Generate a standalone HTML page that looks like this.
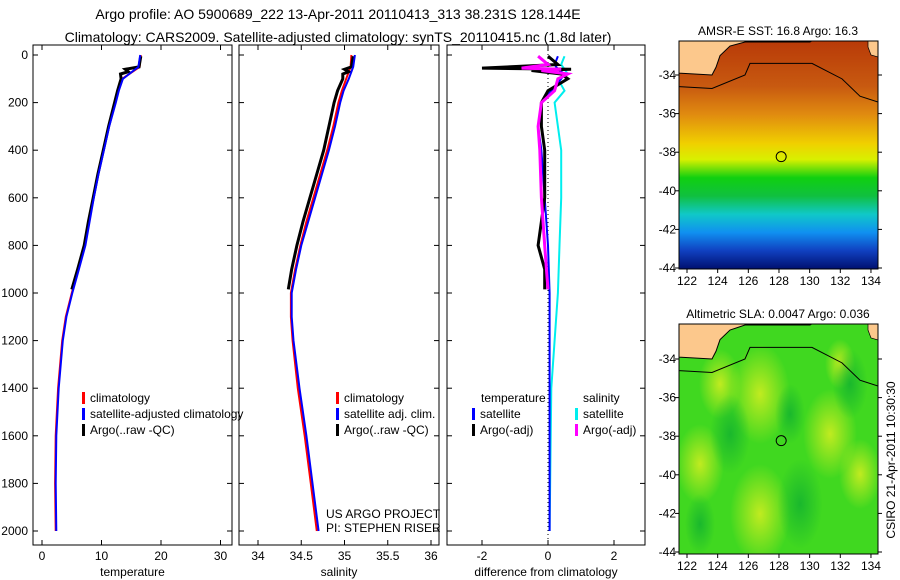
<!DOCTYPE html>
<html><head><meta charset="utf-8">
<style>
body{margin:0;background:#fff;}
svg{display:block;font-family:"Liberation Sans",sans-serif;}
</style></head>
<body>
<svg id="fig" width="900" height="580" viewBox="0 0 900 580">
<defs>
<linearGradient id="sstg" x1="0" y1="0" x2="0" y2="1">
<stop offset="0" stop-color="#b83a08"/>
<stop offset="0.2" stop-color="#c85a10"/>
<stop offset="0.32" stop-color="#e08a10"/>
<stop offset="0.45" stop-color="#f0d000"/>
<stop offset="0.52" stop-color="#d8f000"/>
<stop offset="0.6" stop-color="#10d010"/>
<stop offset="0.68" stop-color="#10c040"/>
<stop offset="0.76" stop-color="#10c8c8"/>
<stop offset="0.84" stop-color="#1090f0"/>
<stop offset="0.92" stop-color="#1040c0"/>
<stop offset="1" stop-color="#001070"/>
</linearGradient>
<radialGradient id="ylw" cx="0.5" cy="0.5" r="0.5"><stop offset="0" stop-color="#e0f020" stop-opacity="0.8"/><stop offset="1" stop-color="#e0f020" stop-opacity="0"/></radialGradient>
<radialGradient id="dg" cx="0.5" cy="0.5" r="0.5"><stop offset="0" stop-color="#10b030" stop-opacity="0.8"/><stop offset="1" stop-color="#10b030" stop-opacity="0"/></radialGradient>
<clipPath id="c1"><rect x="679" y="41" width="199" height="228"/></clipPath>
<clipPath id="c2"><rect x="679" y="324" width="199" height="230"/></clipPath>
</defs>
<text x="338" y="19" font-size="14" text-anchor="middle">Argo profile: AO 5900689_222 13-Apr-2011 20110413_313 38.231S 128.144E</text>
<text x="338" y="42" font-size="14" text-anchor="middle">Climatology: CARS2009. Satellite-adjusted climatology: synTS_20110415.nc (1.8d later)</text>
<g id="plots"></g>
</svg>
<script>
// ---------- data ----------
const depthTicks = [0,200,400,600,800,1000,1200,1400,1600,1800,2000];
const tempTicks = [0,10,20,30];
const salTicks = [34,34.5,35,35.5,36];
const salTickLabels = ["34","34.5","35","35.5","36"];
const diffTicks = [-2,0,2];
const climDepth = [0,50,100,150,200,300,400,500,600,700,800,900,1000,1100,1200,1400,1600,1800,2000];
const climTemp = [16.6,16.4,13.5,12.8,12.3,11.2,10.3,9.4,8.6,7.9,7.2,6.1,5.0,4.0,3.4,2.7,2.3,2.2,2.3];
const satTemp  = [16.5,16.2,13.6,12.9,12.4,11.3,10.4,9.5,8.7,8.0,7.3,6.2,5.1,4.1,3.5,2.8,2.4,2.3,2.4];
const argoDepth = [5,50,60,70,80,100,150,200,300,400,500,600,700,800,900,985];
const argoTemp = [16.6,16.3,14.0,14.5,13.2,13.3,12.7,12.2,11.2,10.3,9.4,8.6,7.8,7.1,6.0,5.0];
const climSal = [35.08,35.07,35.02,34.97,34.93,34.87,34.80,34.72,34.64,34.56,34.49,34.43,34.38,34.38,34.40,34.46,34.54,34.61,34.68];
const satSal  = [35.12,35.10,35.05,34.99,34.95,34.89,34.82,34.74,34.66,34.58,34.50,34.44,34.39,34.39,34.41,34.48,34.56,34.63,34.70];
const argoSal = [35.10,35.08,35.0,35.05,34.98,34.98,34.92,34.88,34.82,34.76,34.68,34.60,34.52,34.45,34.39,34.35];
const diffDepth = [5,40,60,80,100,150,200,300,400,600,800,1000,1400,2000];
const diffTempSat = [0.3,0.2,0.3,0.5,0.4,0.1,-0.2,-0.3,-0.2,-0.1,0.0,0.05,0.05,0.05];
const diffSalSat = [0.5,0.4,0.5,0.6,0.3,0.5,0.2,0.3,0.4,0.4,0.35,0.3,0.1,0.05];
const diffArgoDepth = [5,40,55,60,65,80,100,150,200,300,400,600,800,900,985];
const diffTempArgo = [0,0.3,-2.0,0.7,-0.5,0.4,0.6,0.0,-0.2,-0.2,-0.1,-0.1,-0.3,-0.1,-0.1];
const diffSalArgo = [-0.3,0.0,-0.8,0.4,-0.2,0.6,0.3,0.2,-0.2,-0.3,-0.25,-0.2,-0.1,-0.05,0.0];
const mapLonTicks = [122,124,126,128,130,132,134];
const mapLatTicks = [-34,-36,-38,-40,-42,-44];
const floatLon = 128.144, floatLat = -38.231;

// ---------- helpers ----------
const NS="http://www.w3.org/2000/svg";
const G=document.getElementById('plots');
function mk(tag,at,parent){const e=document.createElementNS(NS,tag);for(const k in at)e.setAttribute(k,at[k]);(parent||G).appendChild(e);return e;}
const yD = d => 55 + d*0.238;
function panel(x0,x1,xf,ticks,labels,xlabel,name){
  const r=mk('rect',{x:x0,y:45,width:x1-x0,height:500,fill:'none',stroke:'#000','stroke-width':1});
  
  
  ticks.forEach((t,i)=>{const x=xf(t);
    mk('line',{x1:x,x2:x,y1:545,y2:540,stroke:'#000'});mk('line',{x1:x,x2:x,y1:45,y2:50,stroke:'#000'});
    const tx=mk('text',{x:x,y:560,'font-size':12,'text-anchor':'middle'});tx.textContent=labels[i];
    
    });
  depthTicks.forEach(d=>{mk('line',{x1:x0,x2:x0+5,y1:yD(d),y2:yD(d),stroke:'#000'});mk('line',{x1:x1,x2:x1-5,y1:yD(d),y2:yD(d),stroke:'#000'});});
  const xl=mk('text',{x:(x0+x1)/2,y:576,'font-size':12,'text-anchor':'middle'});xl.textContent=xlabel;
  
  
}
function line(xs,ds,xf,color,w,name){
  const pts=xs.map((v,i)=>xf(v).toFixed(1)+','+yD(ds[i]).toFixed(1)).join(' ');
  const p=mk('polyline',{points:pts,fill:'none',stroke:color,'stroke-width':w});
  
  
}
function legend(x,y,items,name){
  items.forEach((it,i)=>{mk('rect',{x:x,y:y+i*16-10,width:3,height:12,fill:it[0]});
    const t=mk('text',{x:x+8,y:y+i*16,'font-size':12});t.textContent=it[1];
    
    });
}
depthTicks.forEach(d=>{const t=mk('text',{x:28,y:yD(d)+4,'font-size':12,'text-anchor':'end'});t.textContent=d;
  
  });

// panel 1 temperature
const xT=v=>42+v*5.95;
panel(33,232,xT,tempTicks,tempTicks.map(String),'temperature','temperature-panel');
line(climTemp,climDepth,xT,'#f00',2,'temp-climatology-line');
line(argoTemp,argoDepth,xT,'#000',3,'temp-argo-line');
line(satTemp,climDepth,xT,'#00f',2,'temp-satellite-line');
legend(82,402,[['#f00','climatology'],['#00f','satellite-adjusted climatology'],['#000','Argo(..raw -QC)']],'temp-legend');

// panel 2 salinity
const xS=v=>258+(v-34)*86.5;
panel(239,439,xS,salTicks,salTickLabels,'salinity','salinity-panel');
line(climSal,climDepth,xS,'#f00',2,'sal-climatology-line');
line(argoSal,argoDepth,xS,'#000',3,'sal-argo-line');
line(satSal,climDepth,xS,'#00f',2,'sal-satellite-line');
legend(336,402,[['#f00','climatology'],['#00f','satellite adj. clim.'],['#000','Argo(..raw -QC)']],'sal-legend');
const c1=mk('text',{x:326,y:518,'font-size':12});c1.textContent='US ARGO PROJECT';


const c2=mk('text',{x:326,y:532,'font-size':12});c2.textContent='PI: STEPHEN RISER';



// panel 3 differences
const xD=v=>548+v*33;
panel(447,645,xD,diffTicks,diffTicks.map(String),'difference from climatology','difference-panel');
mk('line',{x1:548,x2:548,y1:50,y2:540,stroke:'#000','stroke-dasharray':'1,3'});
line(diffSalSat,diffDepth,xD,'#0ee',2,'diff-sal-satellite-line');
line(diffTempSat,diffDepth,xD,'#00f',2,'diff-temp-satellite-line');
line(diffTempArgo,diffArgoDepth,xD,'#000',3,'diff-temp-argo-line');
line(diffSalArgo,diffArgoDepth,xD,'#f0f',3,'diff-sal-argo-line');
const h1=mk('text',{x:481,y:402,'font-size':12});h1.textContent='temperature';


const h2=mk('text',{x:583,y:402,'font-size':12});h2.textContent='salinity';


legend(472,418,[['#00f','satellite'],['#000','Argo(-adj)']],'diff-temp-legend');
legend(575,418,[['#0ee','satellite'],['#f0f','Argo(-adj)']],'diff-sal-legend');

// maps
function map(y0,y1,latTop,latBot,clip,title,kind){
  const xm=lon=>687+(lon-122)*15.33;
  const ym=lat=>latTop+(-34-lat)*(latBot-latTop)/10;
  const g=mk('g',{'clip-path':'url(#'+clip+')'});
  
  
  if(kind==='sst'){
    mk('rect',{x:679,y:y0,width:199,height:y1-y0,fill:'url(#sstg)'},g);
  }else{
    mk('rect',{x:679,y:y0,width:199,height:y1-y0,fill:'#40d820'},g);
    [[760,70,50],[700,140,40],[830,110,45],[760,190,50],[860,150,35],[720,60,35],[840,40,25]].forEach(c=>mk('ellipse',{cx:c[0],cy:y0+c[1],rx:c[2]*0.6,ry:c[2],fill:'url(#ylw)'},g));
    [[730,110,40],[800,180,45],[850,60,35],[700,200,30],[790,90,30]].forEach(c=>mk('ellipse',{cx:c[0],cy:y0+c[1],rx:c[2]*0.5,ry:c[2],fill:'url(#dg)'},g));
  }
  mk('path',{d:`M679,${y0-2} L679,${ym(-33.9)} L712,${ym(-34)} L716,${ym(-33.6)} L720,${ym(-33.0)} L730,${ym(-32.5)} L745,${y0+1} L810,${y0+1} L815,${y0-2} Z`,fill:'#fcc88c',stroke:'#000','stroke-width':1},g);
  mk('path',{d:`M868,${y0-2} L868,${y0+6} L871,${y0+14} L878,${y0+16} L878,${y0-2} Z`,fill:'#fcc88c',stroke:'#000','stroke-width':0.7},g);
  mk('path',{d:`M679,${ym(-34.6)} L712,${ym(-34.7)} L745,${ym(-34)} L750,${ym(-33.4)} L812,${ym(-33.4)} L842,${ym(-34.2)} L860,${ym(-35.1)} L878,${ym(-35.4)}`,fill:'none',stroke:'#000','stroke-width':1},g);
  const cir=mk('circle',{cx:xm(floatLon),cy:ym(floatLat),r:5,fill:'none',stroke:'#000'});
  
  
  mk('rect',{x:679,y:y0,width:199,height:y1-y0,fill:'none',stroke:'#000'});
  mapLonTicks.forEach(l=>{const x=xm(l);mk('line',{x1:x,x2:x,y1:y1,y2:y1+4,stroke:'#000'});
    const t=mk('text',{x:x,y:y1+16,'font-size':12,'text-anchor':'middle'});t.textContent=l;
    
    });
  mapLatTicks.forEach(l=>{const y=ym(l);mk('line',{x1:878,x2:882,y1:y,y2:y,stroke:'#000'});mk('line',{x1:675,x2:679,y1:y,y2:y,stroke:'#000'});
    const t=mk('text',{x:676,y:y+4,'font-size':12,'text-anchor':'end'});t.textContent=l;
    
    });
  const tt=mk('text',{x:778,y:y0-6,'font-size':12,'text-anchor':'middle'});tt.textContent=title;
  
  
}
map(41,269,75,268,'c1','AMSR-E SST: 16.8 Argo: 16.3','sst');
map(324,554,359,552,'c2','Altimetric SLA: 0.0047 Argo: 0.036','sla');
const st=mk('text',{x:0,y:0,'font-size':12,'text-anchor':'middle',transform:'translate(895,460) rotate(-90)'});st.textContent='CSIRO 21-Apr-2011 10:30:30';


</script>
</body></html>
